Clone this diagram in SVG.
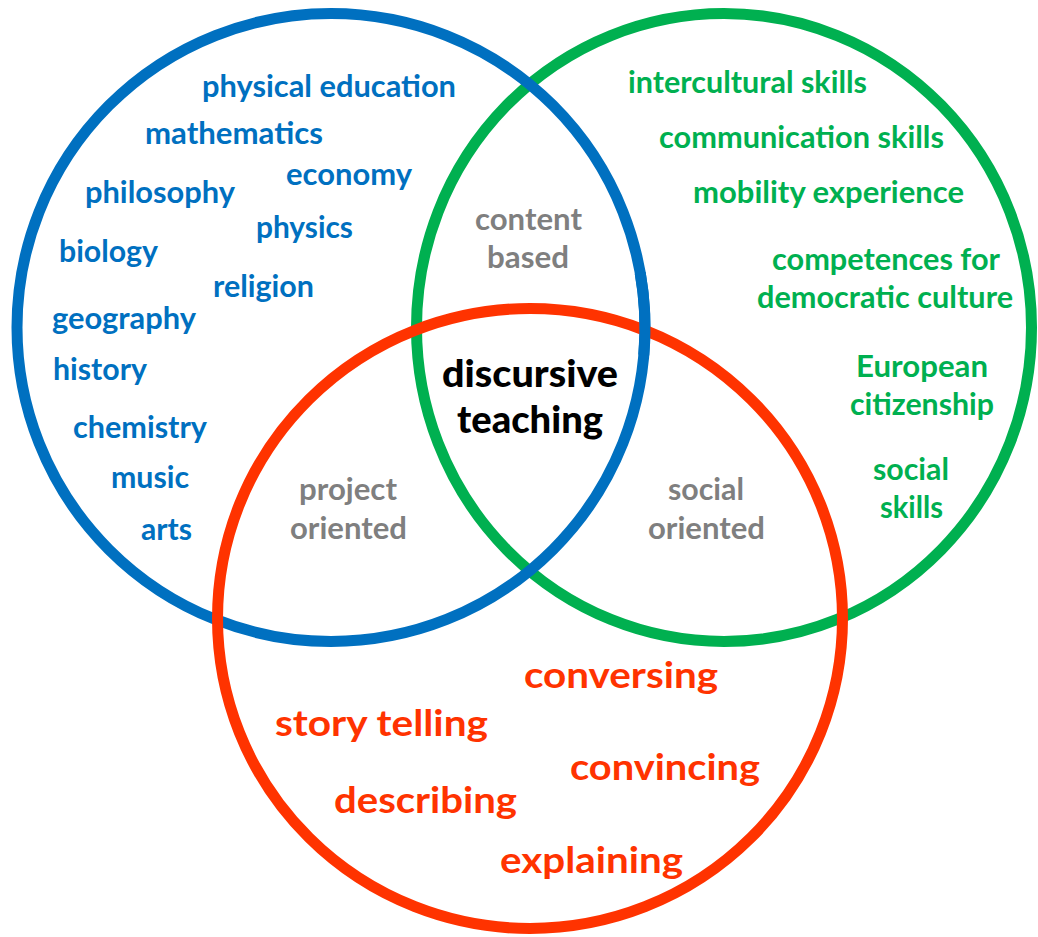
<svg xmlns="http://www.w3.org/2000/svg" width="1038" height="937" viewBox="0 0 1038 937">
<style>
text{font-family:Lato,"Liberation Sans",sans-serif;font-weight:bold;}
.ring{fill:none;stroke-width:11;}
.b{fill:#0070C0;font-size:31px;}
.g{fill:#00B050;font-size:31px;}
.r{fill:#FF3300;font-size:37px;}
.k{fill:#000000;font-size:38px;font-weight:900;}
.m{fill:#7F7F7F;font-size:30px;}
</style>
<rect width="1038" height="937" fill="#ffffff"/>
<g id="circles">
<ellipse id="green-ring" class="ring" cx="724" cy="327.5" rx="307.5" ry="314" stroke="#00B050"/>
<circle id="blue-ring" class="ring" cx="331" cy="327.5" r="314" stroke="#0070C0"/>
<ellipse id="red-ring" class="ring" cx="530" cy="618.5" rx="312.5" ry="310" stroke="#FF3300"/>
<path class="ring" d="M640.2,273 A314,314 0 0 1 643.8,354.9" stroke="#0070C0"/>
</g>
<g id="subjects">
<text class="b" x="202" y="97" textLength="254" lengthAdjust="spacingAndGlyphs">physical education</text>
<text class="b" x="145" y="144" textLength="178" lengthAdjust="spacingAndGlyphs">mathematics</text>
<text class="b" x="286" y="185" textLength="126" lengthAdjust="spacingAndGlyphs">economy</text>
<text class="b" x="85" y="203" textLength="150" lengthAdjust="spacingAndGlyphs">philosophy</text>
<text class="b" x="256" y="238" textLength="97" lengthAdjust="spacingAndGlyphs">physics</text>
<text class="b" x="59" y="262" textLength="99" lengthAdjust="spacingAndGlyphs">biology</text>
<text class="b" x="213" y="297" textLength="101" lengthAdjust="spacingAndGlyphs">religion</text>
<text class="b" x="52" y="329" textLength="144" lengthAdjust="spacingAndGlyphs">geography</text>
<text class="b" x="53" y="380" textLength="94" lengthAdjust="spacingAndGlyphs">history</text>
<text class="b" x="73" y="438" textLength="134" lengthAdjust="spacingAndGlyphs">chemistry</text>
<text class="b" x="111" y="488" textLength="78" lengthAdjust="spacingAndGlyphs">music</text>
<text class="b" x="141" y="540" textLength="51" lengthAdjust="spacingAndGlyphs">arts</text>
</g>
<g id="skills">
<text class="g" x="628" y="93" textLength="239" lengthAdjust="spacingAndGlyphs">intercultural skills</text>
<text class="g" x="659" y="148" textLength="285" lengthAdjust="spacingAndGlyphs">communication skills</text>
<text class="g" x="693" y="203" textLength="271" lengthAdjust="spacingAndGlyphs">mobility experience</text>
<text class="g" x="772" y="270" textLength="228" lengthAdjust="spacingAndGlyphs">competences for</text>
<text class="g" x="757" y="308" textLength="256" lengthAdjust="spacingAndGlyphs">democratic culture</text>
<text class="g" x="856" y="377" textLength="132" lengthAdjust="spacingAndGlyphs">European</text>
<text class="g" x="850" y="415" textLength="144" lengthAdjust="spacingAndGlyphs">citizenship</text>
<text class="g" x="873" y="480" textLength="76" lengthAdjust="spacingAndGlyphs">social</text>
<text class="g" x="880" y="518" textLength="63" lengthAdjust="spacingAndGlyphs">skills</text>
</g>
<g id="activities">
<text class="r" x="524" y="688" textLength="194" lengthAdjust="spacingAndGlyphs">conversing</text>
<text class="r" x="275" y="736" textLength="213" lengthAdjust="spacingAndGlyphs">story telling</text>
<text class="r" x="570" y="780" textLength="190" lengthAdjust="spacingAndGlyphs">convincing</text>
<text class="r" x="334" y="813" textLength="183" lengthAdjust="spacingAndGlyphs">describing</text>
<text class="r" x="500" y="873" textLength="183" lengthAdjust="spacingAndGlyphs">explaining</text>
</g>
<g id="content-based">
<text class="m" x="475" y="230" textLength="107" lengthAdjust="spacingAndGlyphs">content</text>
<text class="m" x="487" y="268" textLength="82" lengthAdjust="spacingAndGlyphs">based</text>
</g>
<g id="project-oriented">
<text class="m" x="299" y="500" textLength="98" lengthAdjust="spacingAndGlyphs">project</text>
<text class="m" x="290" y="539" textLength="117" lengthAdjust="spacingAndGlyphs">oriented</text>
</g>
<g id="social-oriented">
<text class="m" x="668" y="500" textLength="76" lengthAdjust="spacingAndGlyphs">social</text>
<text class="m" x="648" y="539" textLength="117" lengthAdjust="spacingAndGlyphs">oriented</text>
</g>
<g id="discursive-teaching">
<text class="k" x="442" y="387" textLength="176" lengthAdjust="spacingAndGlyphs">discursive</text>
<text class="k" x="457" y="433" textLength="146" lengthAdjust="spacingAndGlyphs">teaching</text>
</g>
</svg>
